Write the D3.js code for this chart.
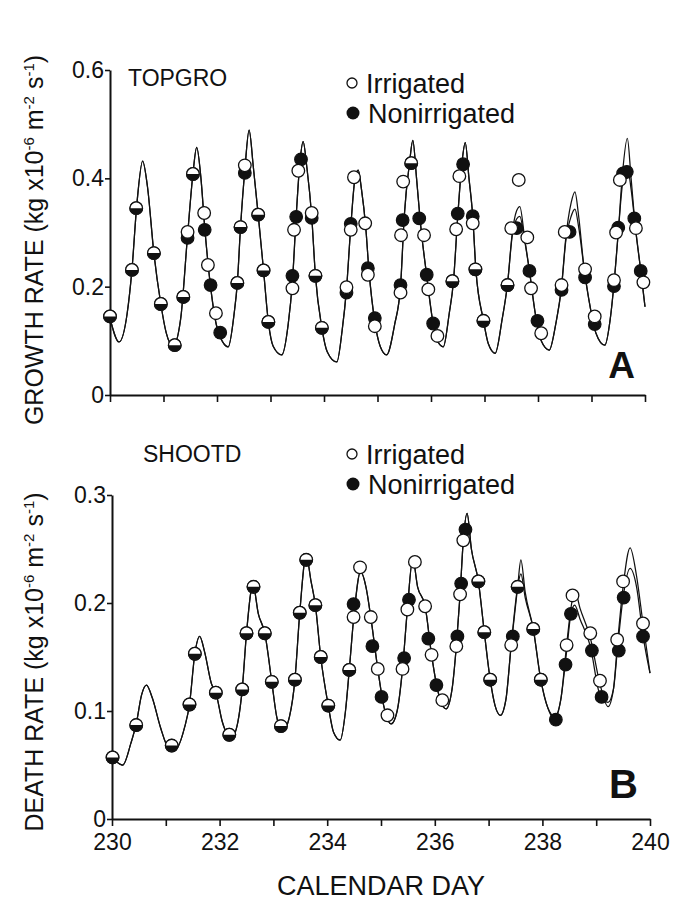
<!DOCTYPE html>
<html>
<head>
<meta charset="utf-8">
<script src="https://d3js.org/d3.v7.min.js"></script>
<style>
  body { margin: 0; background: #fff; }
  svg text { font-family: "Liberation Sans", Arial, Helvetica, sans-serif; fill: #111; }
  .curve { fill: none; stroke: #111; stroke-width: 1.25; }
  .axis path, .axis line { stroke: #111; }
  .axis path { stroke-width: 2; }
  .axis line { stroke-width: 1.6; }
</style>
</head>
<body>
<svg id="fig" width="687" height="902"></svg>
<script>
// ---- data ----
var dayTicks = [230, 231, 232, 233, 234, 235, 236, 237, 238, 239, 240];
var dayLabels = [230, 232, 234, 236, 238, 240];
var growthTicks = [0, 0.2, 0.4, 0.6];
var deathTicks = [0, 0.1, 0.2, 0.3];

// simulated curves: [day, irrigated, nonirrigated]
var growthModel = [
  [230.00,.142,.142],[230.17,.098,.098],[230.32,.150,.150],[230.41,.231,.231],[230.50,.350,.350],[230.61,.432,.432],[230.70,.385,.385],[230.82,.262,.262],[230.95,.168,.168],[231.05,.115,.115],[231.18,.090,.090],
  [231.32,.140,.140],[231.45,.295,.295],[231.55,.408,.408],[231.62,.457,.457],[231.70,.400,.400],[231.77,.310,.310],[231.88,.200,.200],[232.00,.125,.125],[232.21,.089,.089],
  [232.32,.150,.150],[232.38,.207,.207],[232.44,.310,.310],[232.52,.415,.415],[232.60,.489,.489],[232.68,.420,.420],[232.77,.333,.333],[232.87,.230,.230],[232.96,.135,.135],[233.05,.090,.090],[233.21,.074,.074],
  [233.33,.130,.130],[233.41,.210,.210],[233.48,.330,.330],[233.55,.430,.430],[233.61,.468,.468],[233.68,.420,.420],[233.77,.330,.330],[233.84,.220,.220],[233.96,.124,.124],[234.06,.080,.080],[234.24,.061,.061],
  [234.34,.120,.120],[234.42,.195,.195],[234.50,.310,.310],[234.58,.400,.400],[234.64,.415,.415],[234.70,.380,.380],[234.78,.310,.310],[234.84,.230,.230],[234.95,.135,.135],[235.05,.090,.090],[235.17,.074,.074],
  [235.32,.130,.130],[235.43,.200,.200],[235.50,.330,.330],[235.60,.430,.430],[235.66,.470,.470],[235.73,.400,.400],[235.80,.320,.320],[235.92,.220,.220],[236.04,.132,.132],[236.12,.100,.100],[236.23,.089,.089],
  [236.34,.150,.150],[236.42,.210,.210],[236.50,.330,.330],[236.58,.430,.430],[236.64,.466,.466],[236.71,.400,.400],[236.78,.330,.330],[236.84,.230,.230],[236.98,.138,.138],[237.07,.095,.095],[237.20,.077,.077],
  [237.33,.140,.140],[237.43,.205,.205],[237.52,.300,.295],[237.60,.340,.325],[237.66,.348,.330],[237.75,.290,.285],[237.84,.229,.229],[237.95,.150,.150],[238.06,.100,.100],[238.21,.083,.083],
  [238.33,.130,.130],[238.44,.200,.200],[238.52,.290,.285],[238.62,.355,.330],[238.69,.375,.343],[238.76,.330,.310],[238.86,.235,.235],[238.98,.160,.160],[239.08,.115,.115],[239.25,.092,.092],
  [239.35,.140,.140],[239.42,.205,.205],[239.50,.300,.300],[239.58,.410,.390],[239.67,.474,.421],[239.74,.400,.380],[239.82,.310,.310],[239.92,.230,.230],[240.00,.163,.163]
];

var growthIrr = [
  [230.00,.145],[230.41,.231],[230.49,.345],[230.82,.262],[230.95,.168],
  [231.21,.092],[231.37,.181],[231.45,.301],[231.55,.408],[231.76,.336],[231.83,.240],[231.98,.151],
  [232.38,.207],[232.44,.310],[232.52,.424],[232.77,.333],[232.87,.230],[232.96,.135],
  [233.41,.197],[233.44,.305],[233.52,.414],[233.77,.336],[233.84,.220],[233.96,.124],
  [234.42,.199],[234.50,.305],[234.56,.402],[234.77,.317],[234.82,.222],[234.95,.127],
  [235.43,.189],[235.44,.295],[235.48,.394],[235.63,.428],[235.87,.295],[235.95,.195],[236.12,.109],
  [236.40,.210],[236.47,.306],[236.53,.404],[236.78,.317],[236.83,.232],[236.98,.137],
  [237.43,.203],[237.50,.308],[237.64,.397],[237.80,.291],[237.87,.197],[238.06,.114],
  [238.44,.203],[238.50,.301],[238.88,.232],[239.06,.145],
  [239.42,.212],[239.46,.300],[239.53,.397],[239.83,.308],[239.97,.208]
];

var growthNon = [
  [230.00,.145],[230.41,.231],[230.49,.345],[230.82,.262],[230.95,.168],
  [231.21,.092],[231.37,.181],[231.45,.290],[231.55,.408],[231.77,.305],[231.88,.203],[232.06,.115],
  [232.38,.207],[232.44,.310],[232.52,.410],[232.77,.333],[232.87,.230],[232.96,.135],
  [233.41,.220],[233.48,.329],[233.57,.435],[233.77,.327],[233.84,.220],[233.96,.124],
  [234.42,.189],[234.50,.316],[234.82,.234],[234.95,.142],
  [235.43,.203],[235.47,.323],[235.63,.428],[235.78,.326],[235.92,.222],[236.04,.132],
  [236.40,.210],[236.50,.335],[236.60,.426],[236.78,.330],[236.83,.232],[236.98,.137],
  [237.43,.203],[237.60,.308],[237.84,.229],[237.99,.137],
  [238.44,.194],[238.59,.301],[238.88,.217],[239.06,.131],
  [239.42,.201],[239.50,.309],[239.59,.409],[239.66,.412],[239.80,.326],[239.92,.229]
];

var deathModel = [
  [230.00,.057,.057],[230.20,.050,.050],[230.35,.070,.070],[230.45,.088,.088],[230.55,.115,.115],[230.64,.124,.124],[230.75,.112,.112],[230.90,.085,.085],[231.05,.066,.066],[231.17,.064,.064],
  [231.35,.085,.085],[231.44,.106,.106],[231.54,.153,.153],[231.63,.169,.169],[231.72,.155,.155],[231.85,.125,.125],[231.93,.117,.117],[232.05,.090,.090],[232.22,.075,.075],
  [232.34,.090,.090],[232.42,.120,.120],[232.50,.172,.172],[232.62,.217,.217],[232.72,.190,.190],[232.84,.172,.172],[232.97,.127,.127],[233.06,.095,.095],[233.17,.081,.081],
  [233.30,.095,.095],[233.40,.129,.129],[233.49,.191,.191],[233.61,.244,.244],[233.70,.220,.220],[233.78,.198,.198],[233.88,.150,.150],[234.02,.105,.105],[234.12,.080,.080],[234.24,.073,.073],
  [234.34,.100,.100],[234.41,.138,.138],[234.50,.190,.190],[234.62,.229,.229],[234.72,.215,.215],[234.81,.187,.187],[234.94,.139,.139],[235.05,.105,.105],[235.19,.088,.088],
  [235.30,.100,.100],[235.40,.139,.139],[235.49,.194,.194],[235.59,.241,.241],[235.68,.215,.215],[235.82,.197,.197],[235.94,.152,.152],[236.05,.120,.120],[236.21,.102,.102],
  [236.32,.120,.120],[236.40,.160,.160],[236.47,.208,.208],[236.53,.258,.258],[236.60,.283,.283],[236.68,.250,.250],[236.81,.220,.220],[236.92,.173,.173],[237.03,.129,.129],[237.12,.105,.105],[237.22,.096,.096],
  [237.32,.110,.110],[237.42,.161,.161],[237.54,.215,.215],[237.60,.240,.227],[237.68,.210,.205],[237.83,.176,.176],[237.97,.129,.129],[238.10,.103,.103],[238.23,.095,.092],
  [238.34,.110,.110],[238.45,.161,.155],[238.53,.195,.190],[238.60,.212,.198],[238.70,.195,.185],[238.89,.168,.160],[239.07,.125,.115],[239.22,.104,.108],
  [239.32,.120,.120],[239.40,.165,.160],[239.50,.215,.205],[239.63,.251,.232],[239.75,.225,.215],[239.87,.181,.170],[240.00,.135,.135]
];

var deathIrr = [
  [230.01,.057],[230.45,.087],[231.11,.068],[231.44,.106],[231.54,.153],[231.93,.117],
  [232.18,.078],[232.42,.120],[232.50,.172],[232.63,.215],[232.84,.172],[232.97,.127],
  [233.14,.086],[233.40,.129],[233.49,.191],[233.61,.240],[233.78,.198],[233.88,.150],[234.02,.105],
  [234.41,.138],[234.49,.187],[234.61,.233],[234.81,.187],[234.94,.139],[235.12,.096],
  [235.40,.139],[235.49,.194],[235.63,.238],[235.82,.197],[235.94,.152],[236.14,.110],
  [236.40,.160],[236.47,.208],[236.53,.258],[236.81,.220],[236.92,.173],[237.03,.129],
  [237.42,.161],[237.54,.215],[237.83,.176],[237.97,.129],
  [238.45,.161],[238.56,.207],[238.89,.172],[239.07,.128],
  [239.39,.166],[239.50,.220],[239.87,.181]
];

var deathNon = [
  [230.01,.057],[230.45,.087],[231.11,.068],[231.44,.106],[231.54,.153],[231.93,.117],
  [232.18,.078],[232.42,.120],[232.50,.172],[232.63,.215],[232.84,.172],[232.97,.127],
  [233.14,.086],[233.40,.129],[233.49,.191],[233.61,.240],[233.78,.198],[233.88,.150],[234.02,.105],
  [234.41,.138],[234.49,.199],[234.84,.160],[235.01,.113],
  [235.43,.149],[235.52,.203],[235.88,.167],[236.03,.124],
  [236.42,.169],[236.49,.218],[236.57,.268],[236.81,.220],[236.92,.173],[237.03,.129],
  [237.45,.169],[237.54,.215],[237.83,.176],[237.97,.129],
  [238.25,.092],[238.43,.143],[238.53,.190],[238.92,.156],[239.10,.113],
  [239.42,.156],[239.51,.205],[239.87,.169]
];

// ---- drawing ----
var svg = d3.select("#fig");
var R = 6.3;

function yFmt(d) { return d === 0 ? "0" : d3.format(".1f")(d); }

function drawPanel(o) {
  var x = d3.scaleLinear().domain([230, 240]).range(o.xRange);
  var y = d3.scaleLinear().domain(o.yDomain).range(o.yRange);
  var g = svg.append("g");

  g.append("g").attr("class", "axis")
    .attr("transform", "translate(0," + o.yRange[0] + ")")
    .call(d3.axisBottom(x).tickValues(dayTicks).tickSize(7).tickSizeOuter(0)
      .tickFormat(function (d) { return o.xLabels && dayLabels.indexOf(d) >= 0 ? d : ""; }))
    .call(function (a) {
      a.selectAll("text").attr("dy", "0.93em").style("font-size", "23px")
        .style("font-family", "Liberation Sans, Arial, sans-serif").attr("fill", "#111");
    });

  g.append("g").attr("class", "axis")
    .attr("transform", "translate(" + o.xRange[0] + ",0)")
    .call(d3.axisLeft(y).tickValues(o.ticks).tickSize(5).tickSizeOuter(0).tickFormat(yFmt))
    .call(function (a) {
      a.selectAll("text").attr("x", -6).style("font-size", "23px")
        .style("font-family", "Liberation Sans, Arial, sans-serif").attr("fill", "#111");
    });

  [1, 2].forEach(function (k) {
    g.append("path").attr("class", "curve")
      .datum(o.model)
      .attr("d", d3.line().curve(d3.curveMonotoneX)
        .x(function (d) { return x(d[0]); })
        .y(function (d) { return y(d[k]); }));
  });

  // points: filled = nonirrigated, open = irrigated, half = both together
  var same = function (a, b) { return Math.abs(a[0] - b[0]) < 0.005 && Math.abs(a[1] - b[1]) < 0.002; };
  g.selectAll(".non").data(o.non).enter().append("circle")
    .attr("cx", function (d) { return x(d[0]); })
    .attr("cy", function (d) { return y(d[1]); })
    .attr("r", R).attr("fill", "#111").attr("stroke", "#111").attr("stroke-width", 1.2);
  g.selectAll(".irr").data(o.irr).enter().append("circle")
    .attr("cx", function (d) { return x(d[0]); })
    .attr("cy", function (d) { return y(d[1]); })
    .attr("r", R).attr("fill", "#fff").attr("stroke", "#111").attr("stroke-width", 1.3);
  var both = o.irr.filter(function (p) { return o.non.some(function (q) { return same(p, q); }); });
  g.selectAll(".half").data(both).enter().append("path")
    .attr("transform", function (d) { return "translate(" + x(d[0]) + "," + y(d[1]) + ")"; })
    .attr("d", "M" + (-R) + ",0A" + R + "," + R + " 0 0 0 " + R + ",0Z")
    .attr("fill", "#111");

  // titles and legend
  g.append("text").attr("x", o.title[1]).attr("y", o.title[2]).style("font-size", "23px").text(o.title[0]);
  g.append("circle").attr("cx", 352).attr("cy", o.leg[0]).attr("r", 5).attr("fill", "#fff").attr("stroke", "#111").attr("stroke-width", 1.3);
  g.append("text").attr("x", 366).attr("y", o.leg[0] + 10).style("font-size", "27px").text("Irrigated");
  g.append("circle").attr("cx", 353).attr("cy", o.leg[1]).attr("r", 6.5).attr("fill", "#111");
  g.append("text").attr("x", 368).attr("y", o.leg[1] + 10).style("font-size", "27px").text("Nonirrigated");
  g.append("text").attr("x", o.letter[1]).attr("y", o.letter[2]).attr("text-anchor", "end")
    .style("font-size", o.letter[3] + "px").style("font-weight", "bold").text(o.letter[0]);

  // y title with superscripts
  var t = g.append("text")
    .attr("transform", "translate(43," + o.yTitleY + ") rotate(-90)")
    .attr("text-anchor", "middle").style("font-size", "25px");
  t.append("tspan").text(o.yTitle + "  (kg x10");
  t.append("tspan").attr("dy", -9).style("font-size", "15px").text("-6");
  t.append("tspan").attr("dy", 9).text(" m");
  t.append("tspan").attr("dy", -9).style("font-size", "15px").text("-2");
  t.append("tspan").attr("dy", 9).text(" s");
  t.append("tspan").attr("dy", -9).style("font-size", "15px").text("-1");
  t.append("tspan").attr("dy", 9).text(")");
}

drawPanel({
  xRange: [110, 645], yDomain: [0, 0.6], yRange: [395, 70], ticks: growthTicks,
  model: growthModel, irr: growthIrr, non: growthNon, xLabels: false,
  title: ["TOPGRO", 128, 86], leg: [83, 113], letter: ["A", 635, 378, 37],
  yTitle: "GROWTH RATE", yTitleY: 240
});

drawPanel({
  xRange: [112, 650], yDomain: [0, 0.3], yRange: [819, 495], ticks: deathTicks,
  model: deathModel, irr: deathIrr, non: deathNon, xLabels: true,
  title: ["SHOOTD", 143, 462], leg: [454, 484], letter: ["B", 638, 798, 40],
  yTitle: "DEATH RATE", yTitleY: 662
});

svg.append("text").attr("x", 381).attr("y", 895).attr("text-anchor", "middle")
  .style("font-size", "27px").text("CALENDAR DAY");
</script>
</body>
</html>
